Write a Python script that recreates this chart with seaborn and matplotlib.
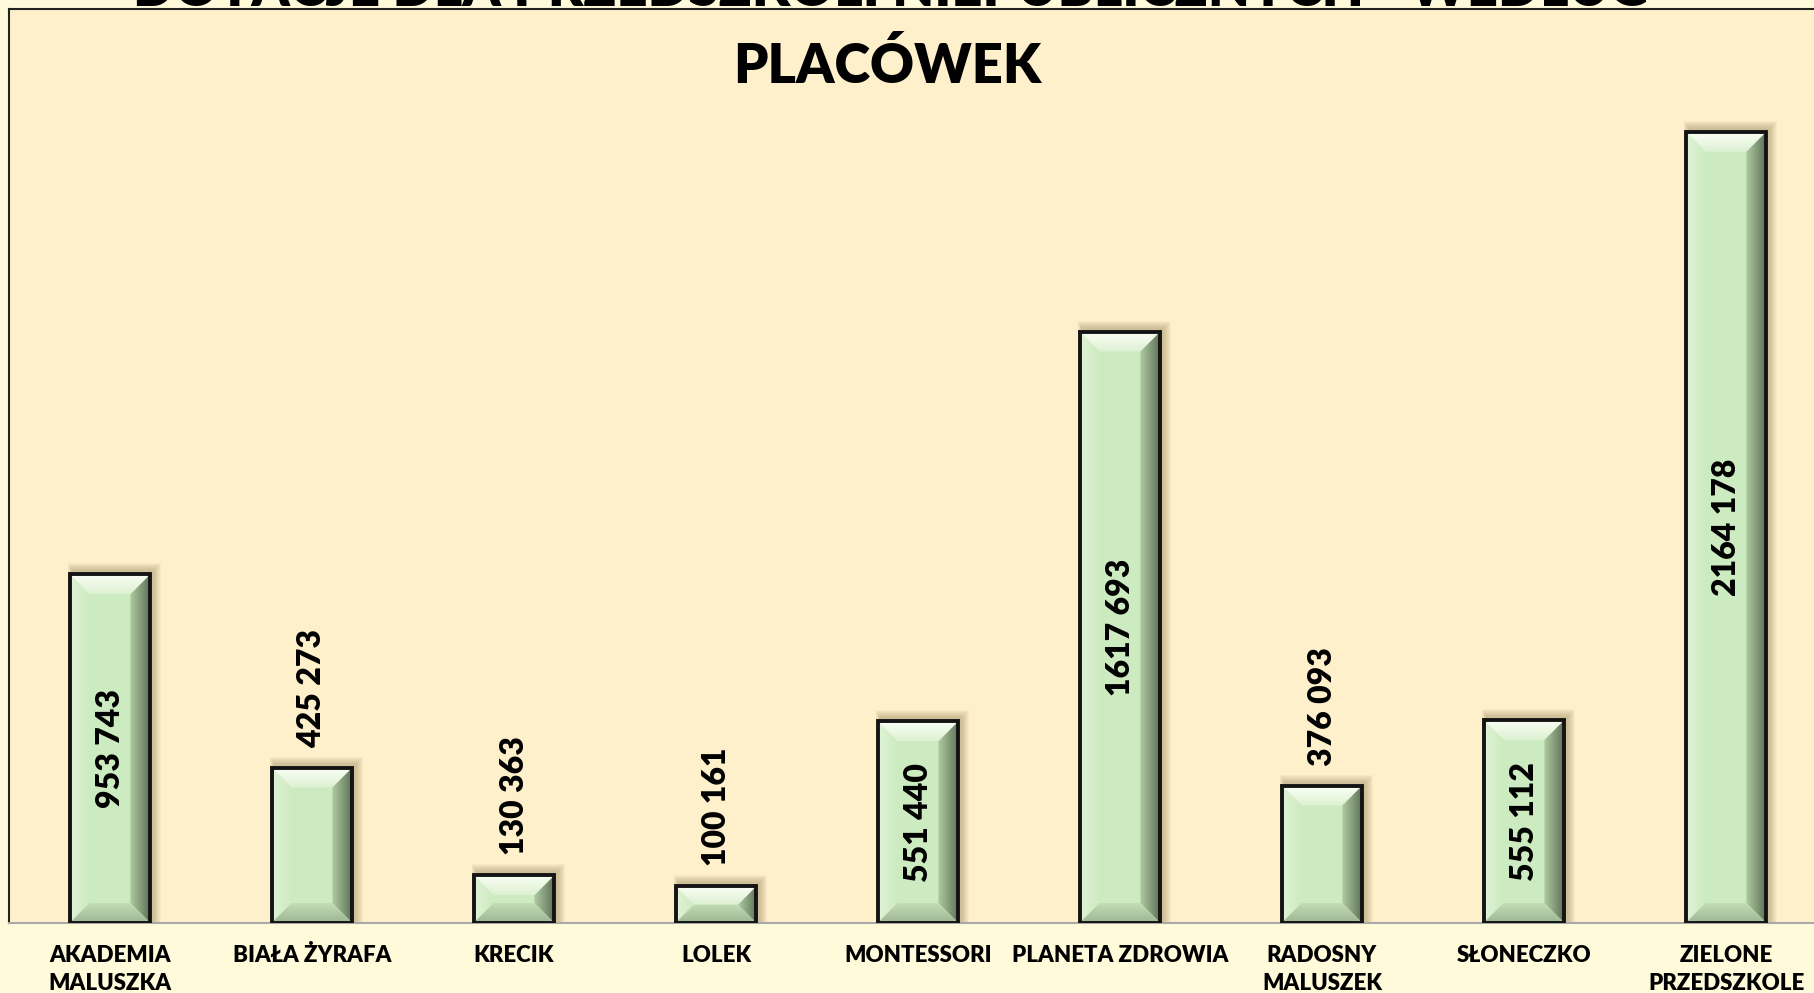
import numpy as np
import pandas as pd
import matplotlib
matplotlib.use("Agg")
import matplotlib.pyplot as plt
import seaborn as sns
from matplotlib.patches import Polygon, Rectangle

# ---- data ----
categories = ["AKADEMIA\nMALUSZKA", "BIAŁA ŻYRAFA", "KRECIK", "LOLEK", "MONTESSORI",
              "PLANETA ZDROWIA", "RADOSNY\nMALUSZEK", "SŁONECZKO", "ZIELONE\nPRZEDSZKOLE"]
values = [953743, 425273, 130363, 100161, 551440, 1617693, 376093, 555112, 2164178]
title_line1 = "DOTACJE DLA PRZEDSZKOLI NIEPUBLICZNYCH - WEDŁUG"
title_line2 = "PLACÓWEK"

df = pd.DataFrame({"cat": categories, "val": values})

sns.set_theme(style="white")
plt.rcParams["font.family"] = ["Lato", "DejaVu Sans"]

W, H = 1814, 993
fig = plt.figure(figsize=(W / 100, H / 100), dpi=100, facecolor="#FFFBDA")
ax_left, ax_right, ax_top, ax_bot = 9, 1827, 9, 923
ax = fig.add_axes([ax_left / W, 1 - ax_bot / H, (ax_right - ax_left) / W, (ax_bot - ax_top) / H])
ax.set_facecolor("#FFF0CC")

face = "#CDEBC0"
sns.barplot(data=df, x="cat", y="val", ax=ax, width=0.4, color=face, saturation=1,
            edgecolor="none", linewidth=0, zorder=3)

ymax = 2.5e6
ax.set_xlim(-0.5, len(categories) - 0.5)
ax.set_ylim(0, ymax)

px_x = (len(categories)) / (ax_right - ax_left)
px_y = ymax / (ax_bot - ax_top)


def grad_poly(xy, c0, c1, horizontal, z):
    poly = Polygon(xy, closed=True, facecolor="none", edgecolor="none", zorder=z)
    ax.add_patch(poly)
    xs = [p[0] for p in xy]
    ys = [p[1] for p in xy]
    c0 = np.array(matplotlib.colors.to_rgb(c0))
    c1 = np.array(matplotlib.colors.to_rgb(c1))
    t = np.linspace(0, 1, 64)
    if horizontal:
        img = (c0[None, None, :] * (1 - t)[None, :, None] + c1[None, None, :] * t[None, :, None])
    else:
        img = (c0[None, None, :] * (1 - t)[:, None, None] + c1[None, None, :] * t[:, None, None])
    im = ax.imshow(img, extent=(min(xs), max(xs), min(ys), max(ys)), origin="lower",
                   aspect="auto", zorder=z, interpolation="bilinear")
    im.set_clip_path(poly)


def fmt(v):
    return f"{v // 1000} {v % 1000:03d}"


bars = list(ax.patches)
for bar, v in zip(bars, values):
    x0 = bar.get_x()
    w = bar.get_width()
    h = bar.get_height()
    x1 = x0 + w
    for k in range(8, 0, -1):
        sx = k * px_x
        sy = k * px_y
        ax.add_patch(Rectangle((x0 + 3 * px_x - sx * 0.6, 0), w + 2 * sx * 0.8, h + 3 * px_y + sy,
                               facecolor="#7A6A40", edgecolor="none", alpha=0.05, zorder=2))
    dx = 20 * px_x
    dy = min(20 * px_y, h / 2)
    dxs = dx * (h / 2) / (20 * px_y) if h / 2 < 20 * px_y else dx
    grad_poly([(x0, h), (x1, h), (x1 - dxs, h - dy), (x0 + dxs, h - dy)],
              "#DDF0D2", "#FBFFF6", False, 4)
    grad_poly([(x1, h), (x1, 0), (x1 - dxs, dy), (x1 - dxs, h - dy)],
              "#B0CBA3", "#5F7358", True, 4)
    grad_poly([(x0, h), (x0, 0), (x0 + dxs, dy), (x0 + dxs, h - dy)],
              "#E0F3D6", "#CDEBC0", True, 4)
    grad_poly([(x0, 0), (x1, 0), (x1 - dxs, dy), (x0 + dxs, dy)],
              "#9DB592", "#C4DDB7", False, 4)
    ax.add_patch(Rectangle((x0, 0), w, h, facecolor="none", edgecolor="#141414",
                           linewidth=2.8, zorder=5))
    txt = fmt(v)
    cx = x0 + w / 2
    if v > 500000:
        ax.text(cx, h / 2, txt, rotation=90, ha="center", va="center",
                fontsize=23, fontweight="heavy", color="black", zorder=6)
    else:
        ax.text(cx, h + 20 * px_y, txt, rotation=90, ha="center", va="bottom",
                fontsize=23, fontweight="heavy", color="black", zorder=6)

ax.set_xlabel("")
ax.set_ylabel("")
ax.set_yticks([])
ax.tick_params(axis="x", length=0, pad=16)
for lbl in ax.get_xticklabels():
    lbl.set_fontsize(16)
    lbl.set_fontweight("heavy")
    lbl.set_color("black")
    lbl.set_linespacing(1.4)
    lbl.set_verticalalignment("top")

for s in ["left", "top"]:
    ax.spines[s].set_visible(True)
    ax.spines[s].set_color("#222222")
    ax.spines[s].set_linewidth(1.5)
ax.spines["right"].set_visible(False)
ax.spines["bottom"].set_color("#A8A8A8")
ax.spines["bottom"].set_linewidth(1.5)

fig.text(891 / W, 1 - 6 / H, title_line1, ha="center", va="baseline",
         fontsize=39, fontweight="heavy", color="black")
fig.text(887 / W, 1 - 83 / H, title_line2, ha="center", va="baseline",
         fontsize=39, fontweight="heavy", color="black")

fig.savefig("out.png", dpi=100, facecolor=fig.get_facecolor())
